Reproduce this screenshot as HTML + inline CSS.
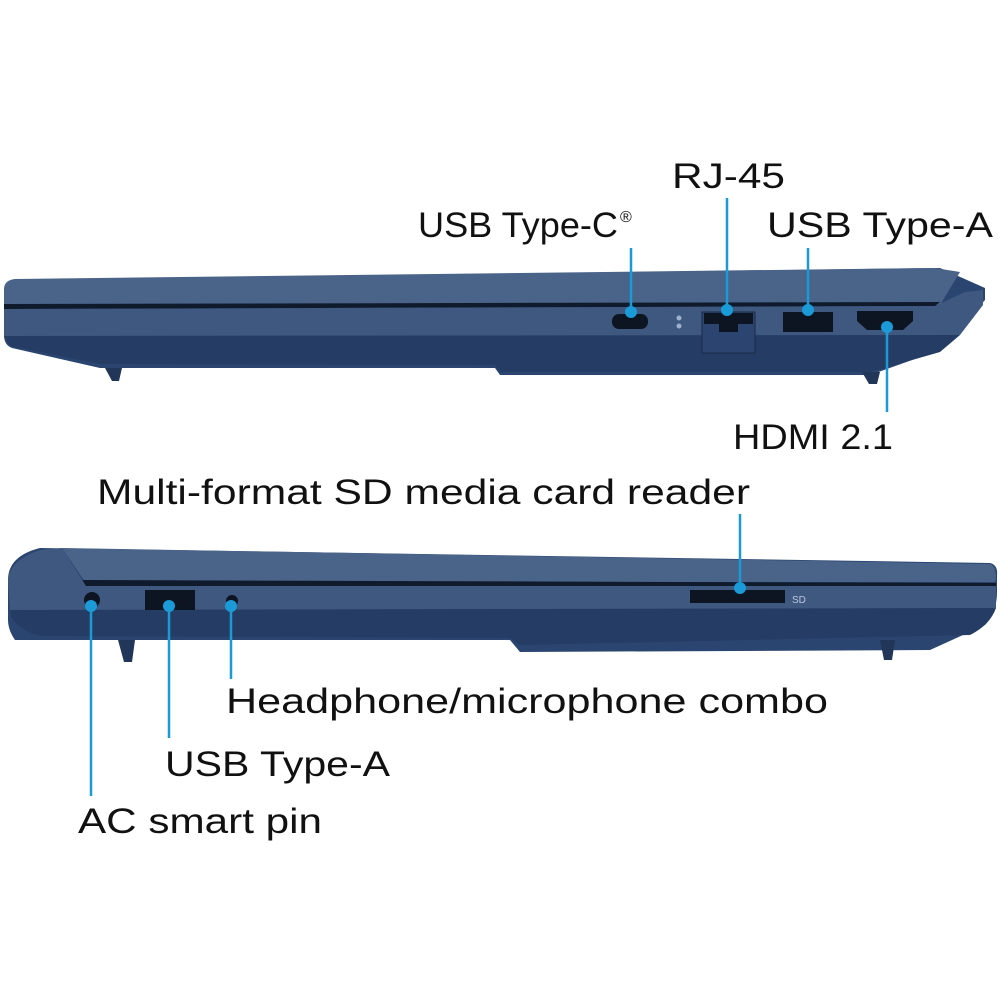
<!DOCTYPE html>
<html><head><meta charset="utf-8"><style>html,body{margin:0;padding:0;background:#fff}svg{display:block}</style></head>
<body>
<svg width="1000" height="1000" viewBox="0 0 1000 1000" xmlns="http://www.w3.org/2000/svg">
<g font-family="Liberation Sans, sans-serif" font-size="35" fill="#111">
<text x="672" y="188" textLength="113" lengthAdjust="spacingAndGlyphs">RJ-45</text>
<text x="418" y="237" textLength="200" lengthAdjust="spacingAndGlyphs">USB Type-C</text>
<text x="620" y="222" font-size="16">®</text>
<text x="767" y="237" textLength="226" lengthAdjust="spacingAndGlyphs">USB Type-A</text>
<text x="733" y="449" textLength="160" lengthAdjust="spacingAndGlyphs">HDMI 2.1</text>
<text x="97" y="504" textLength="653" lengthAdjust="spacingAndGlyphs">Multi-format SD media card reader</text>
<text x="226" y="713" textLength="602" lengthAdjust="spacingAndGlyphs">Headphone/microphone combo</text>
<text x="165" y="776" textLength="225" lengthAdjust="spacingAndGlyphs">USB Type-A</text>
<text x="78" y="833" textLength="244" lengthAdjust="spacingAndGlyphs">AC smart pin</text>
</g>
<!-- top laptop -->
<path d="M8,285 Q4,285 4,292 L4,335 Q4,345 12,348 L100,368 L495,368 L500,375 L870,375 L940,350 L985,300 L985,288 L940,268 L20,280 Z" fill="#2a4570"/>
<path d="M4,288 Q5,280 15,279 L935,268 L960,272 L940,305 L4,308 Z" fill="#4a6389"/>
<path d="M4,304 L940,302 L935,306 L4,309 Z" fill="#0f1a2c"/>
<path d="M4,309 L935,306 L965,292 L983,290 L983,305 L960,335 L4,336 Z" fill="#3f5880"/>
<path d="M4,336 L960,335 L940,352 L870,372 L500,372 L495,365 L100,364 L10,346 Z" fill="#253c64"/>
<path d="M105,368 L122,368 L119,381 L112,381 Z" fill="#213658"/>
<path d="M862,372 L880,372 L877,384 L869,384 Z" fill="#213658"/>
<rect x="612" y="314" width="36" height="15" rx="7" fill="#0d1422"/>
<circle cx="679" cy="318" r="2.5" fill="#9db0cc"/><circle cx="679" cy="326" r="2.5" fill="#9db0cc"/>
<rect x="702" y="312" width="53" height="41" fill="#2c4570" stroke="#1a2a44"/>
<path d="M704,313 L753,313 L753,324 L738,324 L738,332 L719,332 L719,324 L704,324 Z" fill="#0d1422"/>
<rect x="783" y="312" width="50" height="20" fill="#0d1422"/>
<path d="M857,311 L913,311 L913,321 L903,330 L867,330 L857,321 Z" fill="#0d1422"/>
<!-- bottom laptop -->
<path d="M40,548 L990,563 Q998,565 997,575 L997,592 Q997,612 985,625 L930,650 L520,652 L510,640 L15,640 Q8,630 8,620 L8,580 Q8,556 40,548 Z" fill="#2a4570"/>
<path d="M62,548 L990,564 Q996,566 996,578 L995,582 L85,582 Z" fill="#4a6389"/>
<path d="M80,580 L996,583 L996,586 L86,586 Z" fill="#0f1a2c"/>
<path d="M8,580 Q10,560 40,550 L62,548 L86,586 L996,586 L996,608 L10,612 Z" fill="#3f5880"/>
<path d="M10,610 L996,608 Q990,625 970,635 L520,645 L510,638 L40,636 Q12,628 10,610 Z" fill="#253c64"/>
<path d="M118,640 L135,640 L132,662 L124,662 Z" fill="#213658"/>
<path d="M880,640 L895,640 L892,660 L884,660 Z" fill="#213658"/>
<circle cx="92" cy="600" r="8" fill="#0d1422"/>
<rect x="145" y="590" width="50" height="20" fill="#0d1422"/>
<circle cx="232" cy="601" r="6" fill="#0d1422"/>
<rect x="690" y="590" width="95" height="13" fill="#0d1422"/>
<text x="792" y="603" font-family="Liberation Sans, sans-serif" font-size="10" fill="#b8c6dc">SD</text>
<!-- callouts -->
<g stroke="#1a9ad6" stroke-width="2.5" fill="#1a9ad6">
<line x1="631" y1="248" x2="631" y2="310"/><circle cx="631" cy="312" r="6" stroke="none"/>
<line x1="727" y1="198" x2="727" y2="308"/><circle cx="727" cy="310" r="6" stroke="none"/>
<line x1="808" y1="248" x2="808" y2="308"/><circle cx="808" cy="310" r="6" stroke="none"/>
<line x1="887" y1="328" x2="887" y2="412"/><circle cx="887" cy="327" r="6" stroke="none"/>
<line x1="740" y1="514" x2="740" y2="586"/><circle cx="740" cy="588" r="6" stroke="none"/>
<line x1="91" y1="606" x2="91" y2="796"/><circle cx="91" cy="606" r="6" stroke="none"/>
<line x1="169" y1="606" x2="169" y2="738"/><circle cx="169" cy="606" r="6" stroke="none"/>
<line x1="231" y1="606" x2="231" y2="679"/><circle cx="231" cy="606" r="6" stroke="none"/>
</g>
</svg>
</body></html>
